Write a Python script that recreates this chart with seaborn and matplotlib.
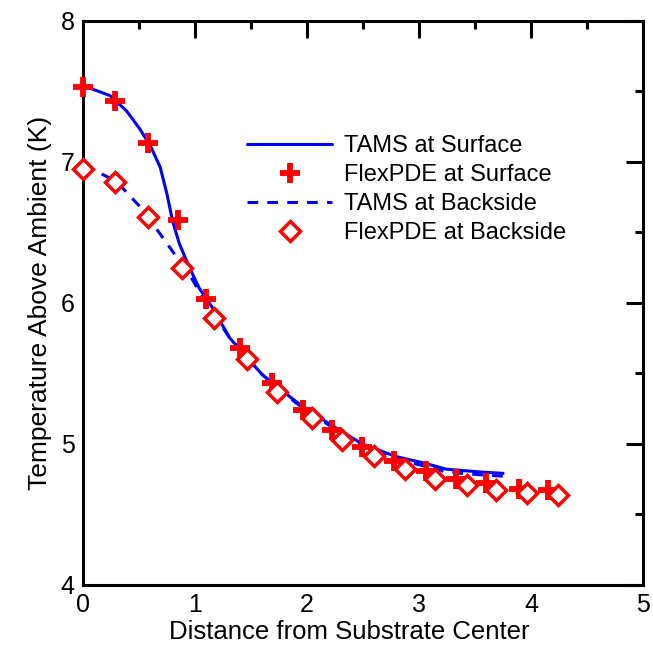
import pandas as pd
import matplotlib
matplotlib.use('Agg')
import matplotlib.pyplot as plt
import seaborn as sns
from matplotlib.ticker import MultipleLocator

# TAMS at Surface (solid line)
tams_surf_x = [0.0, 0.24, 0.39, 0.51, 0.61, 0.69, 0.75, 0.80, 0.86, 0.95, 1.04, 1.16,
               1.31, 1.60, 1.90, 2.20, 2.49, 2.79, 3.06, 3.24, 3.54, 3.75]
tams_surf_y = [7.54, 7.47, 7.36, 7.23, 7.10, 6.96, 6.77, 6.58, 6.42, 6.25, 6.10, 5.96,
               5.75, 5.49, 5.30, 5.14, 5.00, 4.91, 4.86, 4.82, 4.80, 4.79]

# TAMS at Backside (dashed line)
tams_back_x = [0.0, 0.15, 0.30, 0.44, 0.57, 0.66, 0.75, 0.84, 0.95, 1.04, 1.16,
               1.31, 1.60, 1.90, 2.20, 2.49, 2.79, 3.06, 3.24, 3.54, 3.75]
tams_back_y = [6.96, 6.92, 6.86, 6.74, 6.63, 6.52, 6.42, 6.32, 6.20, 6.08, 5.93,
               5.75, 5.49, 5.29, 5.13, 4.99, 4.89, 4.84, 4.80, 4.78, 4.77]

# FlexPDE at Surface (+)
flex_surf_x = [0.0, 0.29, 0.58, 0.85, 1.10, 1.40, 1.69, 1.96, 2.22, 2.49, 2.78,
               3.06, 3.33, 3.60, 3.89, 4.15]
flex_surf_y = [7.53, 7.43, 7.13, 6.59, 6.03, 5.68, 5.43, 5.24, 5.10, 4.98, 4.88,
               4.81, 4.75, 4.72, 4.68, 4.67]

# FlexPDE at Backside (diamonds)
flex_back_x = [0.0, 0.29, 0.58, 0.88, 1.17, 1.46, 1.73, 2.04, 2.31, 2.60, 2.87,
               3.14, 3.43, 3.69, 3.96, 4.24]
flex_back_y = [6.95, 6.86, 6.61, 6.25, 5.89, 5.60, 5.37, 5.18, 5.03, 4.91, 4.82,
               4.75, 4.71, 4.67, 4.65, 4.64]

sns.set_style('white')
plt.rcParams['font.family'] = ['Liberation Sans', 'DejaVu Sans']
plt.rcParams['text.color'] = 'black'
plt.rcParams['axes.labelcolor'] = 'black'
plt.rcParams['xtick.color'] = 'black'
plt.rcParams['ytick.color'] = 'black'

fig = plt.figure(figsize=(6.53, 6.49), dpi=100)
ax = fig.add_axes([0.127, 0.099, 0.858, 0.869])

sns.lineplot(x=tams_surf_x, y=tams_surf_y, ax=ax, sort=False, color='#0000ff',
             linewidth=2.2, label='TAMS at Surface')
sns.lineplot(x=flex_surf_x, y=flex_surf_y, ax=ax, sort=False, color='red',
             linestyle='', marker='+', markersize=15, markeredgewidth=4.2,
             markeredgecolor='red', clip_on=False, zorder=5,
             label='FlexPDE at Surface')
sns.lineplot(x=tams_back_x, y=tams_back_y, ax=ax, sort=False, color='#0000ff',
             linewidth=2.2, dashes=False, linestyle=(0, (3.5, 3)),
             label='TAMS at Backside')
sns.lineplot(x=flex_back_x, y=flex_back_y, ax=ax, sort=False, color='red',
             linestyle='', marker='D', markersize=10, markerfacecolor='white',
             markeredgecolor='red', markeredgewidth=2.5, clip_on=False, zorder=5,
             label='FlexPDE at Backside')

ax.set_xlim(0, 5)
ax.set_ylim(4, 8)
ax.xaxis.set_major_locator(MultipleLocator(1))
ax.xaxis.set_minor_locator(MultipleLocator(0.5))
ax.yaxis.set_major_locator(MultipleLocator(1))
ax.yaxis.set_minor_locator(MultipleLocator(0.5))
ax.tick_params(which='both', direction='in', top=True, right=True, width=2.2,
               labelsize=18, pad=6)
ax.tick_params(which='major', length=12)
ax.tick_params(which='minor', length=6)
for s in ax.spines.values():
    s.set_linewidth(2.2)
    s.set_color('black')

ax.set_xlabel('Distance from Substrate Center', fontsize=18.5)
ax.xaxis.set_label_coords(0.475, -0.062, transform=ax.transAxes)
ax.xaxis.label.set_va('top')
ax.set_ylabel('Temperature Above Ambient (K)', fontsize=19, labelpad=6)

ax.legend(loc='upper left', bbox_to_anchor=(0.255, 0.835), frameon=False,
          fontsize=17, handlelength=3.6, handletextpad=0.5, labelspacing=0.3)

fig.savefig('out.png', dpi=100)
